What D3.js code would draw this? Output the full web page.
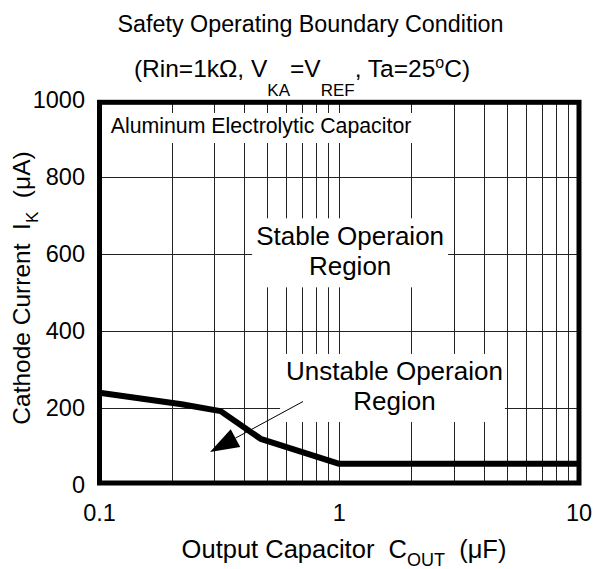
<!DOCTYPE html>
<html><head><meta charset="utf-8">
<script src="https://cdn.jsdelivr.net/npm/d3@7"></script>
<style>body{margin:0;background:#fff}svg{display:block}</style>
</head><body>
<svg id="c" width="595" height="569"></svg>
<script>
// ---- data ----
const capacitance = [0.1, 0.22, 0.32, 0.47, 1, 10];      // uF
const cathodeCurrent = [240, 210, 192, 120, 55, 55];     // uA
const xTickValues = [0.1, 1, 10];
const xTickLabels = ["0.1", "1", "10"];
const yTickValues = [0, 200, 400, 600, 800, 1000];
const yTickLabels = ["0", "200", "400", "600", "800", "1000"];
const xGridValues = [0.2,0.3,0.4,0.5,0.6,0.7,0.8,0.9,1,2,3,4,5,6,7,8,9];
const yGridValues = [200, 400, 600, 800];
const boxNote = {text: ["Aluminum Electrolytic Capacitor"], x: 0.1114, y: 915};
const stableNote = {text: ["Stable Operaion", "Region"], x: 1.11, y: 623};
const unstableNote = {text: ["Unstable Operaion", "Region"], x: 1.70, y: 273};
const arrowFrom = [0.706, 217];
const arrowTo = [0.289, 86];

// ---- layout ----
const svg = d3.select("#c");
const FONT = "Liberation Sans, Arial, sans-serif";
const x = d3.scaleLog().domain([0.1, 10]).range([99.5, 579]);
const y = d3.scaleLinear().domain([0, 1000]).range([485, 100.3]);

// grid
const g = svg.append("g");
g.selectAll(".vg").data(xGridValues).join("line")
  .attr("x1", d => Math.round(x(d)) + 0.5).attr("x2", d => Math.round(x(d)) + 0.5)
  .attr("y1", y(1000)).attr("y2", y(0))
  .attr("stroke", "#222").attr("stroke-width", 1);
g.selectAll(".hg").data(yGridValues).join("line")
  .attr("y1", d => Math.round(y(d)) + 0.5).attr("y2", d => Math.round(y(d)) + 0.5)
  .attr("x1", x(0.1)).attr("x2", x(10))
  .attr("stroke", "#222").attr("stroke-width", 1);

// notes with white background
function note(n, size, anchor, lineH, pad) {
  const grp = svg.append("g");
  const rect = grp.append("rect").attr("fill", "#fff");
  const t = grp.append("text")
    .attr("font-family", FONT).attr("font-size", size)
    .attr("text-anchor", anchor).attr("fill", "#000");
  n.text.forEach((s, i) => {
    t.append("tspan").attr("x", x(n.x)).attr("y", y(n.y) + i * lineH).text(s);
  });
  const b = t.node().getBBox();
  rect.attr("x", b.x - pad[0]).attr("y", b.y - pad[1])
    .attr("width", b.width + pad[0] + pad[2]).attr("height", b.height + pad[1] + pad[3]);
}
note(boxNote, 21.3, "start", 0, [12, 1, 2, 5]);
note(stableNote, 26, "middle", 30, [4, 3, 4, 6]);
note(unstableNote, 26, "middle", 30, [6, 2, 2, 6]);

// curve
const line = d3.line().x(d => x(d[0])).y(d => y(d[1]));
svg.append("path")
  .datum(capacitance.map((c, i) => [c, cathodeCurrent[i]]))
  .attr("d", line).attr("fill", "none").attr("stroke", "#000")
  .attr("stroke-width", 6).attr("stroke-linejoin", "round");

// arrow
const ax1 = x(arrowFrom[0]), ay1 = y(arrowFrom[1]);
const ax2 = x(arrowTo[0]), ay2 = y(arrowTo[1]);
const len = Math.hypot(ax2 - ax1, ay2 - ay1);
const ux = (ax2 - ax1) / len, uy = (ay2 - ay1) / len;
const headL = 29, headW = 10;
const bx = ax2 - ux * headL, by = ay2 - uy * headL;
svg.append("line").attr("x1", ax1).attr("y1", ay1).attr("x2", bx).attr("y2", by)
  .attr("stroke", "#000").attr("stroke-width", 1);
svg.append("path")
  .attr("d", `M${ax2},${ay2}L${bx - uy * headW},${by + ux * headW}L${bx + uy * headW},${by - ux * headW}Z`)
  .attr("fill", "#000");

// frame
svg.append("rect")
  .attr("x", x(0.1)).attr("y", y(1000) + 2)
  .attr("width", x(10) - x(0.1)).attr("height", y(0) - y(1000) - 4)
  .attr("fill", "none").attr("stroke", "#000").attr("stroke-width", 5);

// tick labels
svg.append("g").selectAll("text").data(xTickValues).join("text")
  .attr("x", d => x(d)).attr("y", 521)
  .attr("text-anchor", "middle").attr("font-family", FONT).attr("font-size", 23.5)
  .text((d, i) => xTickLabels[i]);
svg.append("g").selectAll("text").data(yTickValues).join("text")
  .attr("x", 85).attr("y", d => y(d) + 8)
  .attr("text-anchor", "end").attr("font-family", FONT).attr("font-size", 23.5)
  .text((d, i) => yTickLabels[i]);

// titles
svg.append("text").attr("x", 310.5).attr("y", 31.5)
  .attr("text-anchor", "middle").attr("font-family", FONT).attr("font-size", 23.3)
  .text("Safety Operating Boundary Condition");
const t2 = svg.append("text").attr("x", 302).attr("y", 76.5)
  .attr("text-anchor", "middle").attr("font-family", FONT).attr("font-size", 24.5);
t2.append("tspan").text("(Rin=1k\u03A9, V");
t2.append("tspan").attr("font-size", 17).attr("dy", 19).text("KA");
t2.append("tspan").attr("dy", -19).text("=V");
t2.append("tspan").attr("font-size", 17).attr("dy", 19).text("REF");
t2.append("tspan").attr("dy", -19).text(", Ta=25");
t2.append("tspan").attr("font-size", 16).attr("dy", -9).text("o");
t2.append("tspan").attr("dy", 9).text("C)");

// x axis title
const xt = svg.append("text").attr("x", 344).attr("y", 558)
  .attr("text-anchor", "middle").attr("font-family", FONT).attr("font-size", 25.5)
  .attr("xml:space", "preserve");
xt.append("tspan").text("Output Capacitor  C");
xt.append("tspan").attr("font-size", 18).attr("dy", 8).text("OUT");
xt.append("tspan").attr("dy", -8).text("  (\u03BCF)");

// y axis title
const yt = svg.append("text").attr("transform", "translate(30,288) rotate(-90)")
  .attr("text-anchor", "middle").attr("font-family", FONT).attr("font-size", 24.5)
  .attr("xml:space", "preserve");
yt.append("tspan").text("Cathode Current  I");
yt.append("tspan").attr("font-size", 17).attr("dy", 8).text("K");
yt.append("tspan").attr("dy", -8).text("  (\u03BCA)");
</script>
</body></html>
